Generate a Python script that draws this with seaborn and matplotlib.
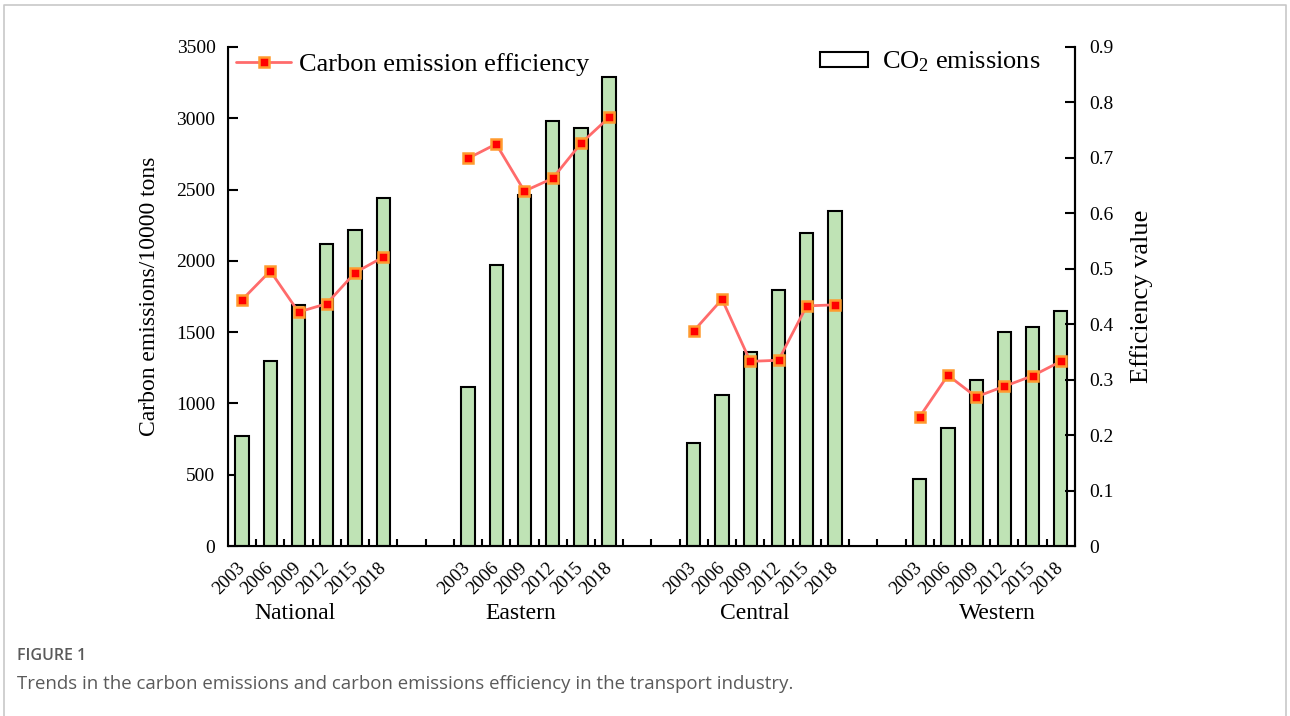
import numpy as np
import pandas as pd
import matplotlib
matplotlib.use('Agg')
import matplotlib.pyplot as plt
import matplotlib.transforms as mtransforms
from matplotlib.lines import Line2D
from matplotlib.patches import Patch
import seaborn as sns

# data
regions = ['National', 'Eastern', 'Central', 'Western']
years = ['2003', '2006', '2009', '2012', '2015', '2018']

emissions_national = [770, 1300, 1690, 2120, 2215, 2440]
emissions_eastern = [1115, 1970, 2465, 2980, 2930, 3290]
emissions_central = [725, 1058, 1362, 1798, 2198, 2348]
emissions_western = [470, 830, 1165, 1500, 1535, 1645]

eff_national = [0.444, 0.496, 0.422, 0.437, 0.493, 0.521]
eff_eastern = [0.699, 0.725, 0.640, 0.663, 0.726, 0.773]
eff_central = [0.388, 0.445, 0.333, 0.335, 0.433, 0.435]
eff_western = [0.233, 0.308, 0.269, 0.288, 0.307, 0.333]

emissions = [emissions_national, emissions_eastern, emissions_central, emissions_western]
efficiency = [eff_national, eff_eastern, eff_central, eff_western]

rows = []
for g, reg in enumerate(regions):
    for i, yr in enumerate(years):
        rows.append({'pos': g * 8 + i, 'region': reg, 'year': yr,
                     'emissions': emissions[g][i], 'eff': efficiency[g][i]})
df = pd.DataFrame(rows)

sns.set_style('ticks')
plt.rcParams['font.family'] = ['Liberation Serif', 'DejaVu Serif']
plt.rcParams['mathtext.fontset'] = 'custom'
plt.rcParams['mathtext.rm'] = 'Liberation Serif'
plt.rcParams['mathtext.it'] = 'Liberation Serif:italic'
for k in ['text.color', 'axes.labelcolor', 'xtick.color', 'ytick.color', 'axes.edgecolor']:
    plt.rcParams[k] = 'black'

fig = plt.figure(figsize=(12.9, 7.16), dpi=100)
ax = fig.add_axes([0.1767, 0.2374, 0.6566, 0.697])

bar_green = '#bfe3b5'
sns.barplot(data=df, x='pos', y='emissions', native_scale=True, width=0.47,
            color=bar_green, edgecolor='black', linewidth=1.5, saturation=1,
            errorbar=None, ax=ax)

ax.set_xlim(-0.5, 29.5)
ax.set_ylim(0, 3500)
ax.set_yticks(np.arange(0, 3501, 500))
ax.set_xticks(df['pos'])
ax.set_xticklabels(df['year'], rotation=45, ha='right', va='center',
                   rotation_mode='anchor', fontsize=13.5)
ax.set_xticks(np.arange(0.5, 29, 1), minor=True)
ax.tick_params(axis='x', which='major', length=0, pad=14)
ax.tick_params(axis='x', which='minor', direction='in', length=5, width=1.5)
ax.tick_params(axis='y', direction='in', length=7, width=1.5, labelsize=14, pad=9)
ax.set_xlabel('')
ax.set_ylabel('Carbon emissions/10000 tons', fontsize=17, labelpad=12)
for s in ['left', 'bottom', 'right']:
    ax.spines[s].set_linewidth(1.5)
ax.spines['top'].set_visible(False)

ax2 = ax.twinx()
sns.lineplot(data=df, x='pos', y='eff', units='region', estimator=None,
             color='#ff6b6b', linewidth=2, marker='s', markersize=7,
             markerfacecolor='#ff0000', markeredgecolor='#ff9a2e',
             markeredgewidth=1.8, ax=ax2)
ax2.set_ylim(0, 0.9)
ax2.set_yticks(np.arange(0, 0.91, 0.1))
ax2.set_yticklabels(['0'] + ['%.1f' % v for v in np.arange(0.1, 0.91, 0.1)])
ax2.tick_params(axis='y', direction='in', length=7, width=1.5, labelsize=14, pad=10)
ax2.set_ylabel('Efficiency value', fontsize=19, labelpad=12)
ax2.spines['top'].set_visible(False)
ax2.spines['right'].set_linewidth(1.5)
ax2.set_xlim(-0.5, 29.5)

# group names under the year labels
trans = mtransforms.blended_transform_factory(ax.transData, ax.transAxes)
group_x = [1.87, 9.88, 18.17, 26.74]
for gx, reg in zip(group_x, regions):
    ax.text(gx, -0.135, reg, transform=trans, ha='center', va='center', fontsize=17)

# legends
h_line = Line2D([], [], color='#ff6b6b', linewidth=2, marker='s', markersize=7,
                markerfacecolor='#ff0000', markeredgecolor='#ff9a2e', markeredgewidth=1.8)
leg1 = ax2.legend([h_line], ['Carbon emission efficiency'], loc='upper left',
                  bbox_to_anchor=(0.0, 1.005), frameon=False, fontsize=19,
                  handlelength=2.1, handletextpad=0.3, borderaxespad=0.0,
                  borderpad=0.3)
ax2.add_artist(leg1)
h_bar = Patch(facecolor='white', edgecolor='black', linewidth=1.5)
ax2.legend([h_bar], [r'CO$_\mathrm{2}$ emissions'], loc='upper right',
           bbox_to_anchor=(0.969, 1.01), frameon=False, fontsize=19,
           handlelength=1.8, handleheight=0.45, handletextpad=0.55, borderaxespad=0.0,
           borderpad=0.3)

# card border and caption
fig.add_artist(Line2D([4 / 1290, 4 / 1290, 1286 / 1290, 1286 / 1290],
                      [0, 1 - 5 / 716, 1 - 5 / 716, 0],
                      transform=fig.transFigure, color='#c8c8c8', linewidth=1.2))
fig.text(17 / 1290, 1 - 656 / 716, 'FIGURE 1', family='Open Sans', fontsize=11.5,
         weight='semibold', color='#5a5a5a', va='center', ha='left')
fig.text(17 / 1290, 1 - 684 / 716,
         'Trends in the carbon emissions and carbon emissions efficiency in the transport industry.',
         family='Open Sans', fontsize=13.4, color='#5a5a5a', va='center', ha='left')

fig.savefig('out.png', dpi=100)
